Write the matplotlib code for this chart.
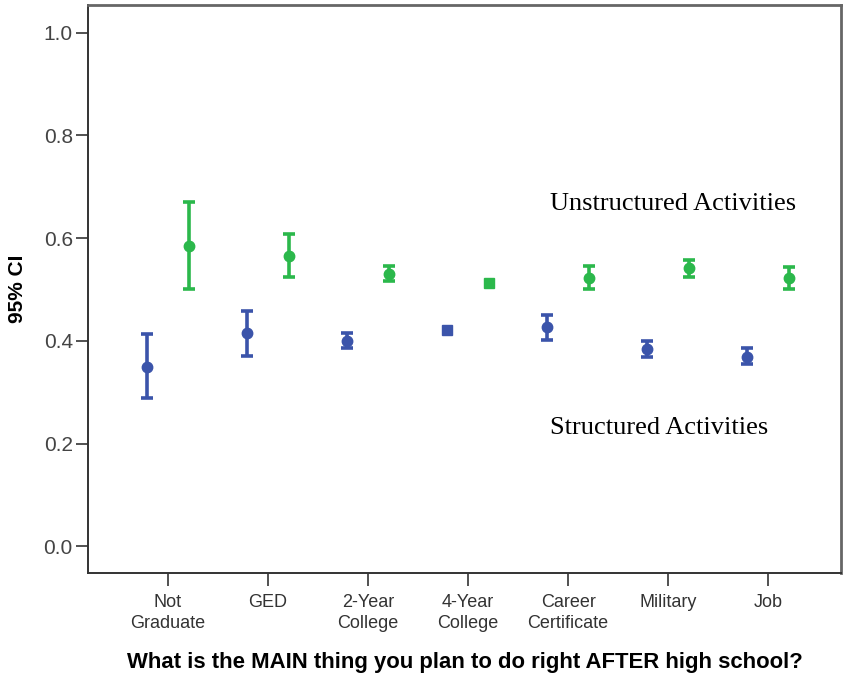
import matplotlib.pyplot as plt
import numpy as np

categories = ["Not\nGraduate", "GED", "2-Year\nCollege", "4-Year\nCollege",
              "Career\nCertificate", "Military", "Job"]

# means and 95% CI bounds
structured_mean = [0.350, 0.415, 0.400, 0.421, 0.427, 0.384, 0.369]
structured_low = [0.288, 0.371, 0.386, 0.421, 0.401, 0.369, 0.355]
structured_high = [0.414, 0.458, 0.415, 0.421, 0.451, 0.399, 0.387]

unstructured_mean = [0.585, 0.565, 0.530, 0.512, 0.523, 0.541, 0.523]
unstructured_low = [0.502, 0.525, 0.517, 0.512, 0.501, 0.524, 0.502]
unstructured_high = [0.670, 0.608, 0.546, 0.512, 0.545, 0.558, 0.543]

BLUE = "#3b54aa"
GREEN = "#2bb84b"

plt.rcParams["font.family"] = ["Liberation Sans", "DejaVu Sans"]

fig = plt.figure(figsize=(8.49, 6.76), dpi=100)
ax = fig.add_axes([0.1037, 0.1524, 0.887, 0.840])

x = np.arange(len(categories))
offset = 0.21


def draw_series(xpos, mean, low, high, color):
    mean = np.array(mean)
    err = np.vstack([mean - np.array(low), np.array(high) - mean])
    for xi, m, lo, hi in zip(xpos, mean, err[0], err[1]):
        if lo + hi < 0.002:
            # interval too narrow to show: square marker only
            ax.plot(xi, m, marker="s", color=color, markersize=7.5, zorder=3)
        else:
            ax.errorbar(xi, m, yerr=[[lo], [hi]], fmt="o", color=color,
                        ecolor=color, elinewidth=2.6, capsize=4,
                        capthick=2.6, markersize=7.5, zorder=3)


draw_series(x - offset, structured_mean, structured_low, structured_high, BLUE)
draw_series(x + offset, unstructured_mean, unstructured_low, unstructured_high, GREEN)

ax.set_xlim(-0.8, 6.73)
ax.set_ylim(-0.0516, 1.0535)
ax.set_xticks(x)
ax.set_xticklabels(categories, fontsize=13, color="#333333", linespacing=1.35)
ax.set_yticks([0.0, 0.2, 0.4, 0.6, 0.8, 1.0])
ax.set_yticklabels(["0.0", "0.2", "0.4", "0.6", "0.8", "1.0"],
                   fontsize=15, color="#444444")
ax.tick_params(axis="both", direction="out", length=9, width=1.2,
               color="#333333")
ax.tick_params(axis="x", pad=6)
ax.tick_params(axis="y", pad=2)

for side in ["left", "bottom"]:
    ax.spines[side].set_color("#333333")
    ax.spines[side].set_linewidth(1.4)
for side in ["top", "right"]:
    ax.spines[side].set_color("#666666")
    ax.spines[side].set_linewidth(2.0)

ax.set_ylabel("95% CI", fontsize=15, fontweight="bold", labelpad=12)
ax.set_xlabel("What is the MAIN thing you plan to do right AFTER high school?",
              fontsize=15.9, fontweight="bold", labelpad=14)

ax.text(3.82, 0.667, "Unstructured Activities", fontsize=19,
        family=["Liberation Serif", "DejaVu Serif"], va="center", ha="left")
ax.text(3.82, 0.230, "Structured Activities", fontsize=19,
        family=["Liberation Serif", "DejaVu Serif"], va="center", ha="left")

fig.savefig("out.png", dpi=100)
